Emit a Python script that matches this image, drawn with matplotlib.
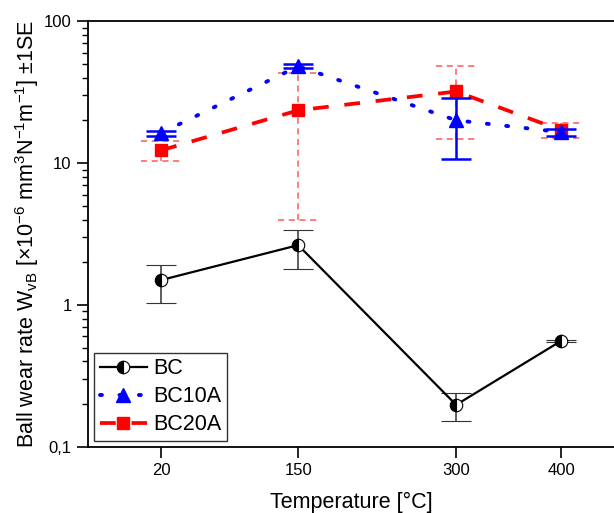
import numpy as np
import matplotlib
matplotlib.use("Agg")
import matplotlib.pyplot as plt
from matplotlib.lines import Line2D
from matplotlib.ticker import FixedLocator, FuncFormatter, LogLocator, NullFormatter

plt.rcParams['font.family'] = ['Liberation Sans', 'DejaVu Sans']
plt.rcParams['mathtext.fontset'] = 'custom'
plt.rcParams['mathtext.rm'] = 'Liberation Sans'
plt.rcParams['mathtext.it'] = 'Liberation Sans'
plt.rcParams['mathtext.default'] = 'regular'

# --- datos ---
temps = [20, 150, 300, 400]

bc = [1.50, 2.64, 0.198, 0.56]
bc_hi = [1.91, 3.40, 0.24, 0.57]
bc_lo = [1.03, 1.79, 0.153, 0.55]

bc10 = [16.3, 48.0, 20.0, 16.5]
bc10_hi = [16.9, 50.0, 28.6, 17.3]
bc10_lo = [15.5, 46.6, 10.7, 15.4]

bc20 = [12.3, 23.5, 31.9, 17.0]
bc20_hi = [14.3, 43.4, 48.4, 19.2]
bc20_lo = [10.3, 3.96, 14.8, 15.0]

fig = plt.figure(figsize=(6.14, 5.13), dpi=100)
ax = fig.add_axes([0.1428, 0.1287, 0.8572, 0.8303])


def yerr(v, hi, lo):
    v = np.array(v)
    return [v - np.array(lo), np.array(hi) - v]


red_err = (1, 0.35, 0.35)
red_ls = (0, (4.2, 4.2))
blue_ls = (0, (0.5, 4.5))

# BC20A (rojo)
e = ax.errorbar(temps, bc20, yerr=yerr(bc20, bc20_hi, bc20_lo), color='red',
                ecolor=red_err, elinewidth=1.1, capsize=0,
                linestyle=red_ls, linewidth=2.7, marker='s', markersize=9,
                zorder=3)
for lc in e[2]:
    lc.set_linestyle((0, (4, 3)))
# caps discontinuas
for t, h, l in zip(temps, bc20_hi, bc20_lo):
    for yv in (h, l):
        ax.plot([t - 19, t + 19], [yv, yv], color=red_err, lw=1.1,
                linestyle=(0, (4, 3)), zorder=2)

# BC10A (azul)
ax.errorbar(temps, bc10, yerr=yerr(bc10, bc10_hi, bc10_lo), color='blue',
            ecolor='blue', elinewidth=1.8, capsize=11, capthick=1.8,
            linestyle=blue_ls, dash_capstyle='round', linewidth=2.8,
            marker='^', markersize=10, zorder=4)

# BC (negro)
ax.errorbar(temps, bc, yerr=yerr(bc, bc_hi, bc_lo), color='black',
            ecolor='#333333', elinewidth=1.1, capsize=11, capthick=1.1,
            linestyle='-', linewidth=1.6, marker='o', markersize=9,
            fillstyle='left', markerfacecolor='black', markerfacecoloralt='white',
            markeredgecolor='black', markeredgewidth=0.8, zorder=5)

ax.set_yscale('log')
ax.set_ylim(0.1, 100)
ax.set_xlim(-50, 450)

ax.xaxis.set_major_locator(FixedLocator(temps))
ax.yaxis.set_major_locator(FixedLocator([0.1, 1, 10, 100]))
ax.yaxis.set_major_formatter(FuncFormatter(lambda v, p: {0.1: '0,1', 1: '1', 10: '10', 100: '100'}.get(round(v, 3), '')))
ax.yaxis.set_minor_locator(LogLocator(base=10, subs=np.arange(2, 10)))
ax.yaxis.set_minor_formatter(NullFormatter())

ax.tick_params(axis='both', which='major', direction='out', length=8, width=1.2, labelsize=12)
ax.tick_params(axis='y', which='minor', direction='out', length=4, width=1)
ax.tick_params(axis='x', which='minor', bottom=False)

for s in ['left', 'bottom', 'top']:
    ax.spines[s].set_linewidth(1.3)
ax.spines['right'].set_visible(False)

ax.set_xlabel('Temperature [°C]', fontsize=15.5, labelpad=10)
ax.set_ylabel('Ball wear rate W$_{vB}$ [×10$^{-6}$ mm$^{3}$N$^{-1}$m$^{-1}$] ±1SE',
              fontsize=15.5, labelpad=2)

handles = [
    Line2D([], [], color='black', lw=1.6, marker='o', markersize=9, fillstyle='left',
           markerfacecolor='black', markerfacecoloralt='white', markeredgecolor='black',
           markeredgewidth=0.8),
    Line2D([], [], color='blue', lw=2.8, linestyle=blue_ls, dash_capstyle='round',
           marker='^', markersize=10),
    Line2D([], [], color='red', lw=2.7, linestyle=red_ls, marker='s', markersize=9),
]
leg = ax.legend(handles, ['BC', 'BC10A', 'BC20A'],
                loc='lower left', fontsize=15.5, frameon=True, fancybox=False,
                edgecolor='black', borderpad=0.25, handlelength=2.2,
                handletextpad=0.3, labelspacing=0.32, borderaxespad=0.3)
leg.get_frame().set_linewidth(1)

fig.savefig('out.png', dpi=100)
